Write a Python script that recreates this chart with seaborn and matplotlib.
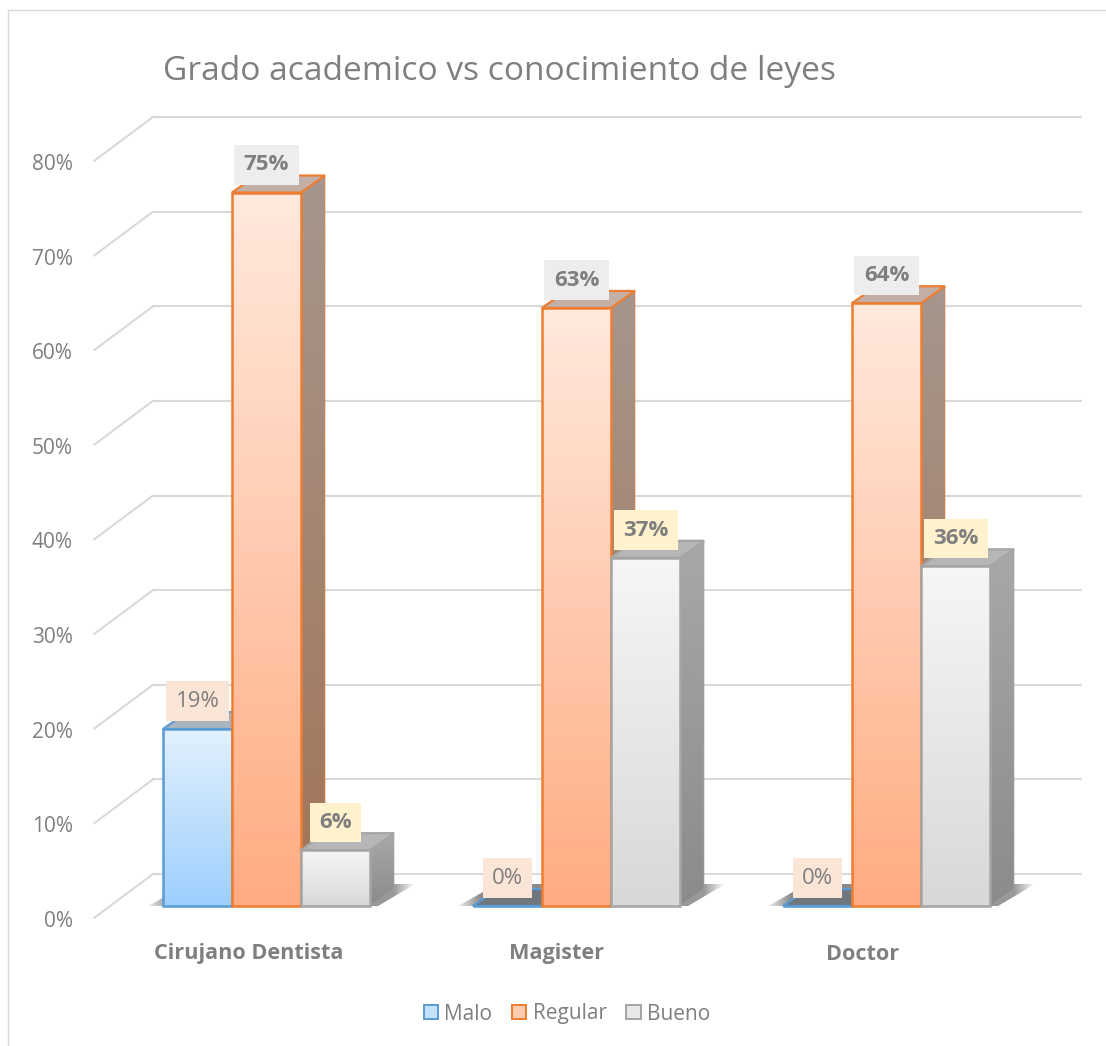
import numpy as np
import pandas as pd
import seaborn as sns
import matplotlib
matplotlib.use('Agg')
import matplotlib.pyplot as plt
from matplotlib.colors import to_rgb
from matplotlib.patches import Patch, Polygon, Rectangle
from matplotlib.transforms import Affine2D

# values
grados = ['Cirujano Dentista', 'Magister', 'Doctor']
niveles = ['Malo', 'Regular', 'Bueno']
malo = [18.7, 0, 0]
regular = [75.4, 63.2, 63.7]
bueno = [5.9, 36.8, 35.9]
y_ticks = [0, 10, 20, 30, 40, 50, 60, 70, 80]
titulo = 'Grado academico vs conocimiento de leyes'

df = pd.DataFrame({
    'Grado': grados * 3,
    'Nivel': ['Malo'] * 3 + ['Regular'] * 3 + ['Bueno'] * 3,
    'Valor': malo + regular + bueno,
})

W, H = 1106, 1046
GRAY = '#7f7f7f'
GRID = '#d9d9d9'

edges = {'Malo': '#5b9bd5', 'Regular': '#ed7d31', 'Bueno': '#a5a5a5'}
front = {'Malo': ('#e2f1fe', '#9dcffd'), 'Regular': ('#ffe9dd', '#ffac82'), 'Bueno': ('#f6f6f6', '#d8d8d8')}
side = {'Malo': ('#8a9bab', '#7a8b9b'), 'Regular': ('#a6968d', '#a27457'), 'Bueno': ('#a8a8a8', '#8b8b8b')}
top = {'Malo': '#a9b4bf', 'Regular': '#c3afa5', 'Bueno': '#b6b6b6'}
label_box = {'Malo': '#fbe5d6', 'Regular': '#ededed', 'Bueno': '#fff2cc'}
label_weight = {'Malo': 'normal', 'Regular': 'bold', 'Bueno': 'bold'}

sns.set_theme(style='white')
plt.rcParams['font.family'] = ['Open Sans', 'DejaVu Sans']

fig = plt.figure(figsize=(W / 100, H / 100), dpi=100)
ax = fig.add_axes([95 / W, (H - 906) / H, (1081 - 95) / W, 757 / H])

sns.barplot(data=df, x='Grado', y='Valor', hue='Nivel', order=grados, hue_order=niveles,
            palette=edges, width=0.668, saturation=1, legend=False, ax=ax)

x_per_px = 1 / 310
y_per_px = 80 / 757
ax.set_xlim((95 - 266.5) * x_per_px, (1081 - 266.5) * x_per_px)
ax.set_ylim(0, 80)
sns.despine(ax=ax, left=True, bottom=True)
ax.set_xlabel('')
ax.set_ylabel('')


def gradient(patch, c_top, c_bottom, z):
    # vertical gradient clipped to a patch
    x0, y0, x1, y1 = patch.get_path().get_extents(patch.get_patch_transform()).extents
    colors = np.linspace(to_rgb(c_top), to_rgb(c_bottom), 128)[:, None, :]
    im = ax.imshow(colors, extent=(x0, x1, y0, y1), aspect='auto', origin='upper', zorder=z)
    im.set_clip_path(patch)


# back wall: gridlines with their diagonal on the left side
wall_x = 58 / 986
for v in y_ticks:
    tr = ax.get_yaxis_transform()
    back = tr + Affine2D().translate(0, 32)
    ax.plot([wall_x, 1], [v, v], color=GRID, lw=1.5, clip_on=False, zorder=0, transform=back)
    ax.plot([-1 / 986, wall_x], [v - 12 * y_per_px, v + 32 * y_per_px], color=GRID, lw=1.5,
            clip_on=False, zorder=0, transform=tr)

# the bars are split by hue, in hue order
dx = 24 * x_per_px
dy = 17 * y_per_px
n = len(grados)
bars = list(ax.patches)[:n * len(niveles)]

# floor shadow under every group
for g in range(n):
    left = bars[g].get_x()
    right = bars[2 * n + g].get_x() + bars[2 * n + g].get_width()
    sx0 = left - 20 * x_per_px
    sx1 = right + 45 * x_per_px
    sy0 = -3 * y_per_px
    sy1 = 22 * y_per_px
    poly = Polygon([(sx0, sy0), (left + 24 * x_per_px, sy1), (sx1, sy1), (right + 3 * x_per_px, sy0)],
                   closed=True, fc='none', ec='none')
    ax.add_patch(poly)
    xs = np.linspace(sx0, sx1, 200)
    alpha = np.interp(xs, [sx0, left + 8 * x_per_px, right + 24 * x_per_px, sx1], [0, 0.7, 0.6, 0])
    rgba = np.zeros((1, 200, 4))
    rgba[..., :3] = to_rgb('#555555')
    rgba[..., 3] = alpha
    im = ax.imshow(rgba, extent=(sx0, sx1, sy0, sy1), aspect='auto', zorder=1)
    im.set_clip_path(poly)

for i, nivel in enumerate(niveles):
    for g in range(n):
        bar = bars[i * n + g]
        x0, w, h = bar.get_x(), bar.get_width(), bar.get_height()
        z = 2 + i + g * 0.01
        # right face
        s = Polygon([(x0 + w, 0), (x0 + w + dx, dy), (x0 + w + dx, h + dy), (x0 + w, h)], closed=True,
                    fc='none', ec=edges[nivel], lw=1.0, alpha=0.45, zorder=z + 0.2, clip_on=False)
        ax.add_patch(s)
        if h > 0:
            gradient(s, side[nivel][0], side[nivel][1], z)
        # top face
        fc = top[nivel] if h > 0 else '#6e767e'
        t = Polygon([(x0, h), (x0 + dx, h + dy), (x0 + w + dx, h + dy), (x0 + w, h)], closed=True,
                    fc=fc, ec=edges[nivel], lw=1.6, zorder=z + 0.1, clip_on=False)
        ax.add_patch(t)
        # front face, seaborn's own bar kept as the outline
        bar.set_facecolor('none')
        bar.set_edgecolor(edges[nivel])
        bar.set_linewidth(1.8)
        bar.set_zorder(z + 0.4)
        bar.set_clip_on(False)
        if h > 0:
            f = Rectangle((x0, 0), w, h, fc='none', ec='none')
            ax.add_patch(f)
            gradient(f, front[nivel][0], front[nivel][1], z + 0.3)

# data labels sit in front of everything
for i, nivel in enumerate(niveles):
    for g in range(n):
        bar = bars[i * n + g]
        ax.annotate(f'{bar.get_height():.0f}%', (bar.get_x() + bar.get_width() / 2, bar.get_height()),
                    xytext=(0, 20), textcoords='offset points', ha='center', va='center',
                    fontsize=16, color=GRAY, fontweight=label_weight[nivel], zorder=10, annotation_clip=False,
                    bbox=dict(boxstyle='square,pad=0.42', fc=label_box[nivel], ec='none'))

ax.set_xlim((95 - 266.5) * x_per_px, (1081 - 266.5) * x_per_px)
ax.set_ylim(0, 80)

# tick labels
ax.set_yticks(y_ticks)
ax.set_yticklabels([f'{v}%' for v in y_ticks], color=GRAY, fontsize=15)
ax.tick_params(axis='y', length=0, pad=16)
for lab in ax.get_yticklabels():
    lab.set_transform(lab.get_transform() + Affine2D().translate(0, -13))

ax.set_xticks(range(n))
ax.set_xticklabels(grados, color=GRAY, fontsize=15.6, fontweight='bold')
ax.tick_params(axis='x', length=0, pad=27)
for lab, off in zip(ax.get_xticklabels(), [-18, -19.5, -24]):
    lab.set_transform(lab.get_transform() + Affine2D().translate(off, 0))

fig.text(163 / W, 1 - 71 / H, titulo, fontsize=24.1, color=GRAY, ha='left', va='center')

handles = [Patch(facecolor=c, edgecolor=edges[k], lw=1.4)
           for k, c in zip(niveles, ['#c5e2fd', '#ffccb0', '#e8e8e8'])]
fig.legend(handles, niveles, loc='center', bbox_to_anchor=(567 / W, 1 - 1014 / H), ncol=3, frameon=False,
           fontsize=15, labelcolor=GRAY, handlelength=0.68, handleheight=0.68, handletextpad=0.3,
           columnspacing=0.95)

# chart frame
fig.add_artist(Rectangle((8 / W, -0.01), 1.1, 1.01 - 10 / H, transform=fig.transFigure,
                         fc='none', ec=GRID, lw=1.0))

fig.savefig('out.png', dpi=100)
